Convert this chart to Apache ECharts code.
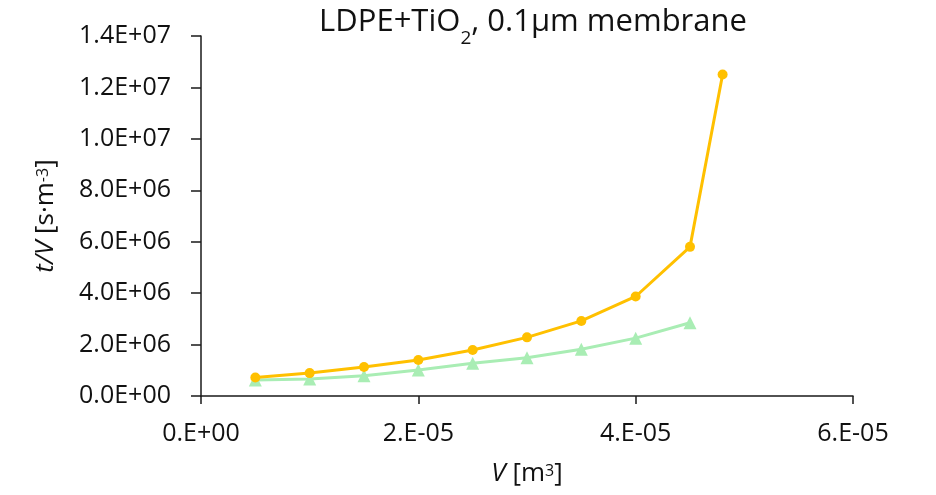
<!DOCTYPE html>
<html>
<head>
<meta charset="utf-8">
<script src="https://cdn.jsdelivr.net/npm/echarts@6/dist/echarts.min.js"></script>
<style>
  html, body { margin: 0; padding: 0; background: #fff; }
  #chart { width: 936px; height: 495px; }
</style>
</head>
<body>
<div id="chart"></div>
<script>
// Filtration volume V [m3] and t/V [s·m-3]
const volOrange = [0.5e-5, 1.0e-5, 1.5e-5, 2.0e-5, 2.5e-5, 3.0e-5, 3.5e-5, 4.0e-5, 4.5e-5, 4.8e-5];
const tvOrange  = [0.72e6, 0.89e6, 1.13e6, 1.40e6, 1.79e6, 2.28e6, 2.92e6, 3.87e6, 5.80e6, 12.5e6];
const volGreen  = [0.5e-5, 1.0e-5, 1.5e-5, 2.0e-5, 2.5e-5, 3.0e-5, 3.5e-5, 4.0e-5, 4.5e-5];
const tvGreen   = [0.62e6, 0.66e6, 0.79e6, 1.01e6, 1.27e6, 1.49e6, 1.82e6, 2.25e6, 2.85e6];

// Axis tick label texts
const xTickLabels = ['0.E+00', '2.E-05', '4.E-05', '6.E-05'];
const yTickLabels = ['0.0E+00', '2.0E+06', '4.0E+06', '6.0E+06', '8.0E+06', '1.0E+07', '1.2E+07', '1.4E+07'];

const FONT = 'Open Sans';
const TEXT = '#111111';
const AXIS = '#1a1a1a';

const pairs = (xs, ys) => xs.map((x, i) => [x, ys[i]]);

const nameRich = {
  i: { fontFamily: FONT, fontSize: 26, fontStyle: 'italic', color: TEXT, verticalAlign: 'top', lineHeight: 34 },
  n: { fontFamily: FONT, fontSize: 26, color: TEXT, verticalAlign: 'top', lineHeight: 34 },
  p: { fontFamily: FONT, fontSize: 16, color: TEXT, verticalAlign: 'top', lineHeight: 16, padding: [2, 0, 0, 0] }
};

const chart = echarts.init(document.getElementById('chart'), null, { renderer: 'canvas' });
chart.setOption({
  backgroundColor: '#ffffff',
  animation: false,
  title: {
    text: '{a|LDPE+TiO}{s|2}{a|, 0.1µm membrane}',
    left: 528,
    textAlign: 'center',
    top: 2,
    textStyle: {
      fontWeight: 'normal',
      rich: {
        a: { fontFamily: FONT, fontSize: 31, fontWeight: 'normal', color: TEXT, verticalAlign: 'top', lineHeight: 40 },
        s: { fontFamily: FONT, fontSize: 19, fontWeight: 'normal', color: TEXT, verticalAlign: 'top', lineHeight: 19, padding: [22, 0, 0, 0] }
      }
    }
  },
  grid: { left: 201, right: 83, top: 36, bottom: 99, containLabel: false },
  xAxis: {
    type: 'value',
    min: 0, max: 6e-5, interval: 2e-5,
    name: '{i|V}{n| [m}{p|3}{n|]}',
    nameLocation: 'middle',
    nameGap: 65,
    nameTextStyle: { rich: nameRich },
    axisLine: { show: true, lineStyle: { color: AXIS, width: 1.5 } },
    axisTick: { show: true, length: 8, lineStyle: { color: AXIS, width: 1.5 } },
    splitLine: { show: false },
    axisLabel: {
      fontFamily: FONT, fontSize: 25, color: TEXT, margin: 25,
      formatter: v => xTickLabels[Math.round(v / 2e-5)]
    }
  },
  yAxis: {
    type: 'value',
    min: 0, max: 1.4e7, interval: 2e6,
    name: '{i|t/V}{n| [s·m}{p|-3}{n|]}',
    nameLocation: 'middle',
    nameRotate: 90,
    nameGap: 134,
    nameTextStyle: { rich: nameRich },
    axisLine: { show: true, lineStyle: { color: AXIS, width: 1.5 } },
    axisTick: { show: true, length: 10, lineStyle: { color: AXIS, width: 1.5 } },
    splitLine: { show: false },
    axisLabel: {
      fontFamily: FONT, fontSize: 25, color: TEXT, margin: 30,
      formatter: v => yTickLabels[Math.round(v / 2e6)]
    }
  },
  series: [
    {
      type: 'line',
      data: pairs(volGreen, tvGreen),
      symbol: 'triangle',
      symbolSize: 13,
      lineStyle: { color: '#A9EDB4', width: 3 },
      itemStyle: { color: '#A9EDB4' },
      z: 2
    },
    {
      type: 'line',
      data: pairs(volOrange, tvOrange),
      symbol: 'circle',
      symbolSize: 10,
      lineStyle: { color: '#FFC000', width: 3 },
      itemStyle: { color: '#FFC000' },
      z: 3
    }
  ]
});
</script>
</body>
</html>
